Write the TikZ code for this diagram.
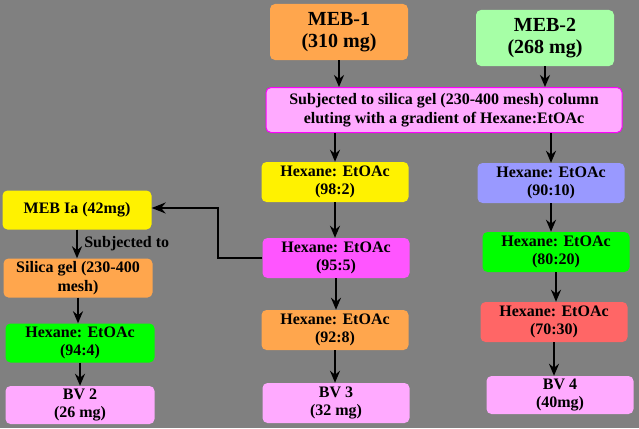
\documentclass[tikz,border=0pt]{standalone}
\usepackage{fontspec}
\setmainfont{Liberation Serif}
\usetikzlibrary{arrows.meta}
\begin{document}
\begin{tikzpicture}[x=1pt,y=-1pt,
 box/.style={rounded corners=5pt,minimum width=147pt,minimum height=40pt,align=center,font=\bfseries\fontsize{16}{18.5}\selectfont,inner sep=1pt},
 arr/.style={-{Stealth[length=12pt,width=10pt]},line width=2pt}]
\fill[fill={rgb,255:red,128;green,128;blue,128}] (0,0) rectangle (639,428);
\useasboundingbox (0,0) rectangle (639,428);
\node[box,fill={rgb,255:red,255;green,166;blue,77},minimum width=138pt,minimum height=56pt,font=\bfseries\fontsize{20}{22}\selectfont] (m1) at (339,32) {MEB-1\\(310 mg)};
\node[box,fill={rgb,255:red,166;green,255;blue,166},minimum width=138pt,minimum height=56pt,font=\bfseries\fontsize{20}{22}\selectfont] (m2) at (545,38) {MEB-2\\(268 mg)};
\node[box,fill={rgb,255:red,255;green,170;blue,255},draw={rgb,255:red,255;green,0;blue,255},line width=1pt,minimum width=356pt,minimum height=45pt] (s) at (444,110) {Subjected to silica gel (230-400 mesh) column\\ eluting with a gradient of Hexane:EtOAc};
\node[box,fill=yellow] (a1) at (335,182) {Hexane: EtOAc\\(98:2)};
\node[box,fill={rgb,255:red,255;green,85;blue,255}] (a2) at (336,258) {Hexane: EtOAc\\(95:5)};
\node[box,fill={rgb,255:red,255;green,166;blue,77}] (a3) at (335,330) {Hexane: EtOAc\\(92:8)};
\node[box,fill={rgb,255:red,255;green,170;blue,255}] (a4) at (336,403) {BV 3\\(32 mg)};
\node[box,fill={rgb,255:red,153;green,153;blue,255}] (b1) at (551,183) {Hexane: EtOAc\\(90:10)};
\node[box,fill={rgb,255:red,0;green,255;blue,0}] (b2) at (556,252) {Hexane: EtOAc\\(80:20)};
\node[box,fill={rgb,255:red,255;green,102;blue,102}] (b3) at (554,322) {Hexane: EtOAc\\(70:30)};
\node[box,fill={rgb,255:red,255;green,170;blue,255},minimum height=38pt] (b4) at (560,395) {BV 4\\(40mg)};
\node[box,fill=yellow,minimum width=149pt,minimum height=39pt] (c1) at (77,210) {MEB Ia (42mg)};
\node[box,fill={rgb,255:red,255;green,166;blue,77},minimum width=149pt,minimum height=39pt] (c2) at (78,278) {Silica gel (230-400\\mesh)};
\node[box,fill={rgb,255:red,0;green,255;blue,0},minimum width=149pt,minimum height=39pt] (c3) at (80,343) {Hexane: EtOAc\\(94:4)};
\node[box,fill={rgb,255:red,255;green,170;blue,255},minimum width=149pt,minimum height=38pt] (c4) at (80,405) {BV 2\\(26 mg)};
\draw[arr] (m1.south) -- (m1.south|-s.north);
\draw[arr] (m2.south) -- (m2.south|-s.north);
\draw[arr] (a1.north|-s.south) -- (a1.north);
\draw[arr] (a1.south) -- (a1.south|-a2.north);
\draw[arr] (a2.south) -- (a2.south|-a3.north);
\draw[arr] (a3.south) -- (a3.south|-a4.north);
\draw[arr] (b1.north|-s.south) -- (b1.north);
\draw[arr] (b1.south) -- (b1.south|-b2.north);
\draw[arr] (b2.south) -- (b2.south|-b3.north);
\draw[arr] (b3.south) -- (b3.south|-b4.north);
\draw[arr] (c1.south) -- node[right,font=\bfseries\fontsize{16}{18}\selectfont,xshift=3pt]{Subjected to} (c1.south|-c2.north);
\draw[arr] (c2.south) -- (c2.south|-c3.north);
\draw[arr] (c3.south) -- (c3.south|-c4.north);
\coordinate (k) at (218,208);
\draw[arr,line width=1.5pt,-{Stealth[length=14pt,width=11pt]}] (a2.west) -| (k) -- (c1.east|-k);
\end{tikzpicture}
\end{document}
